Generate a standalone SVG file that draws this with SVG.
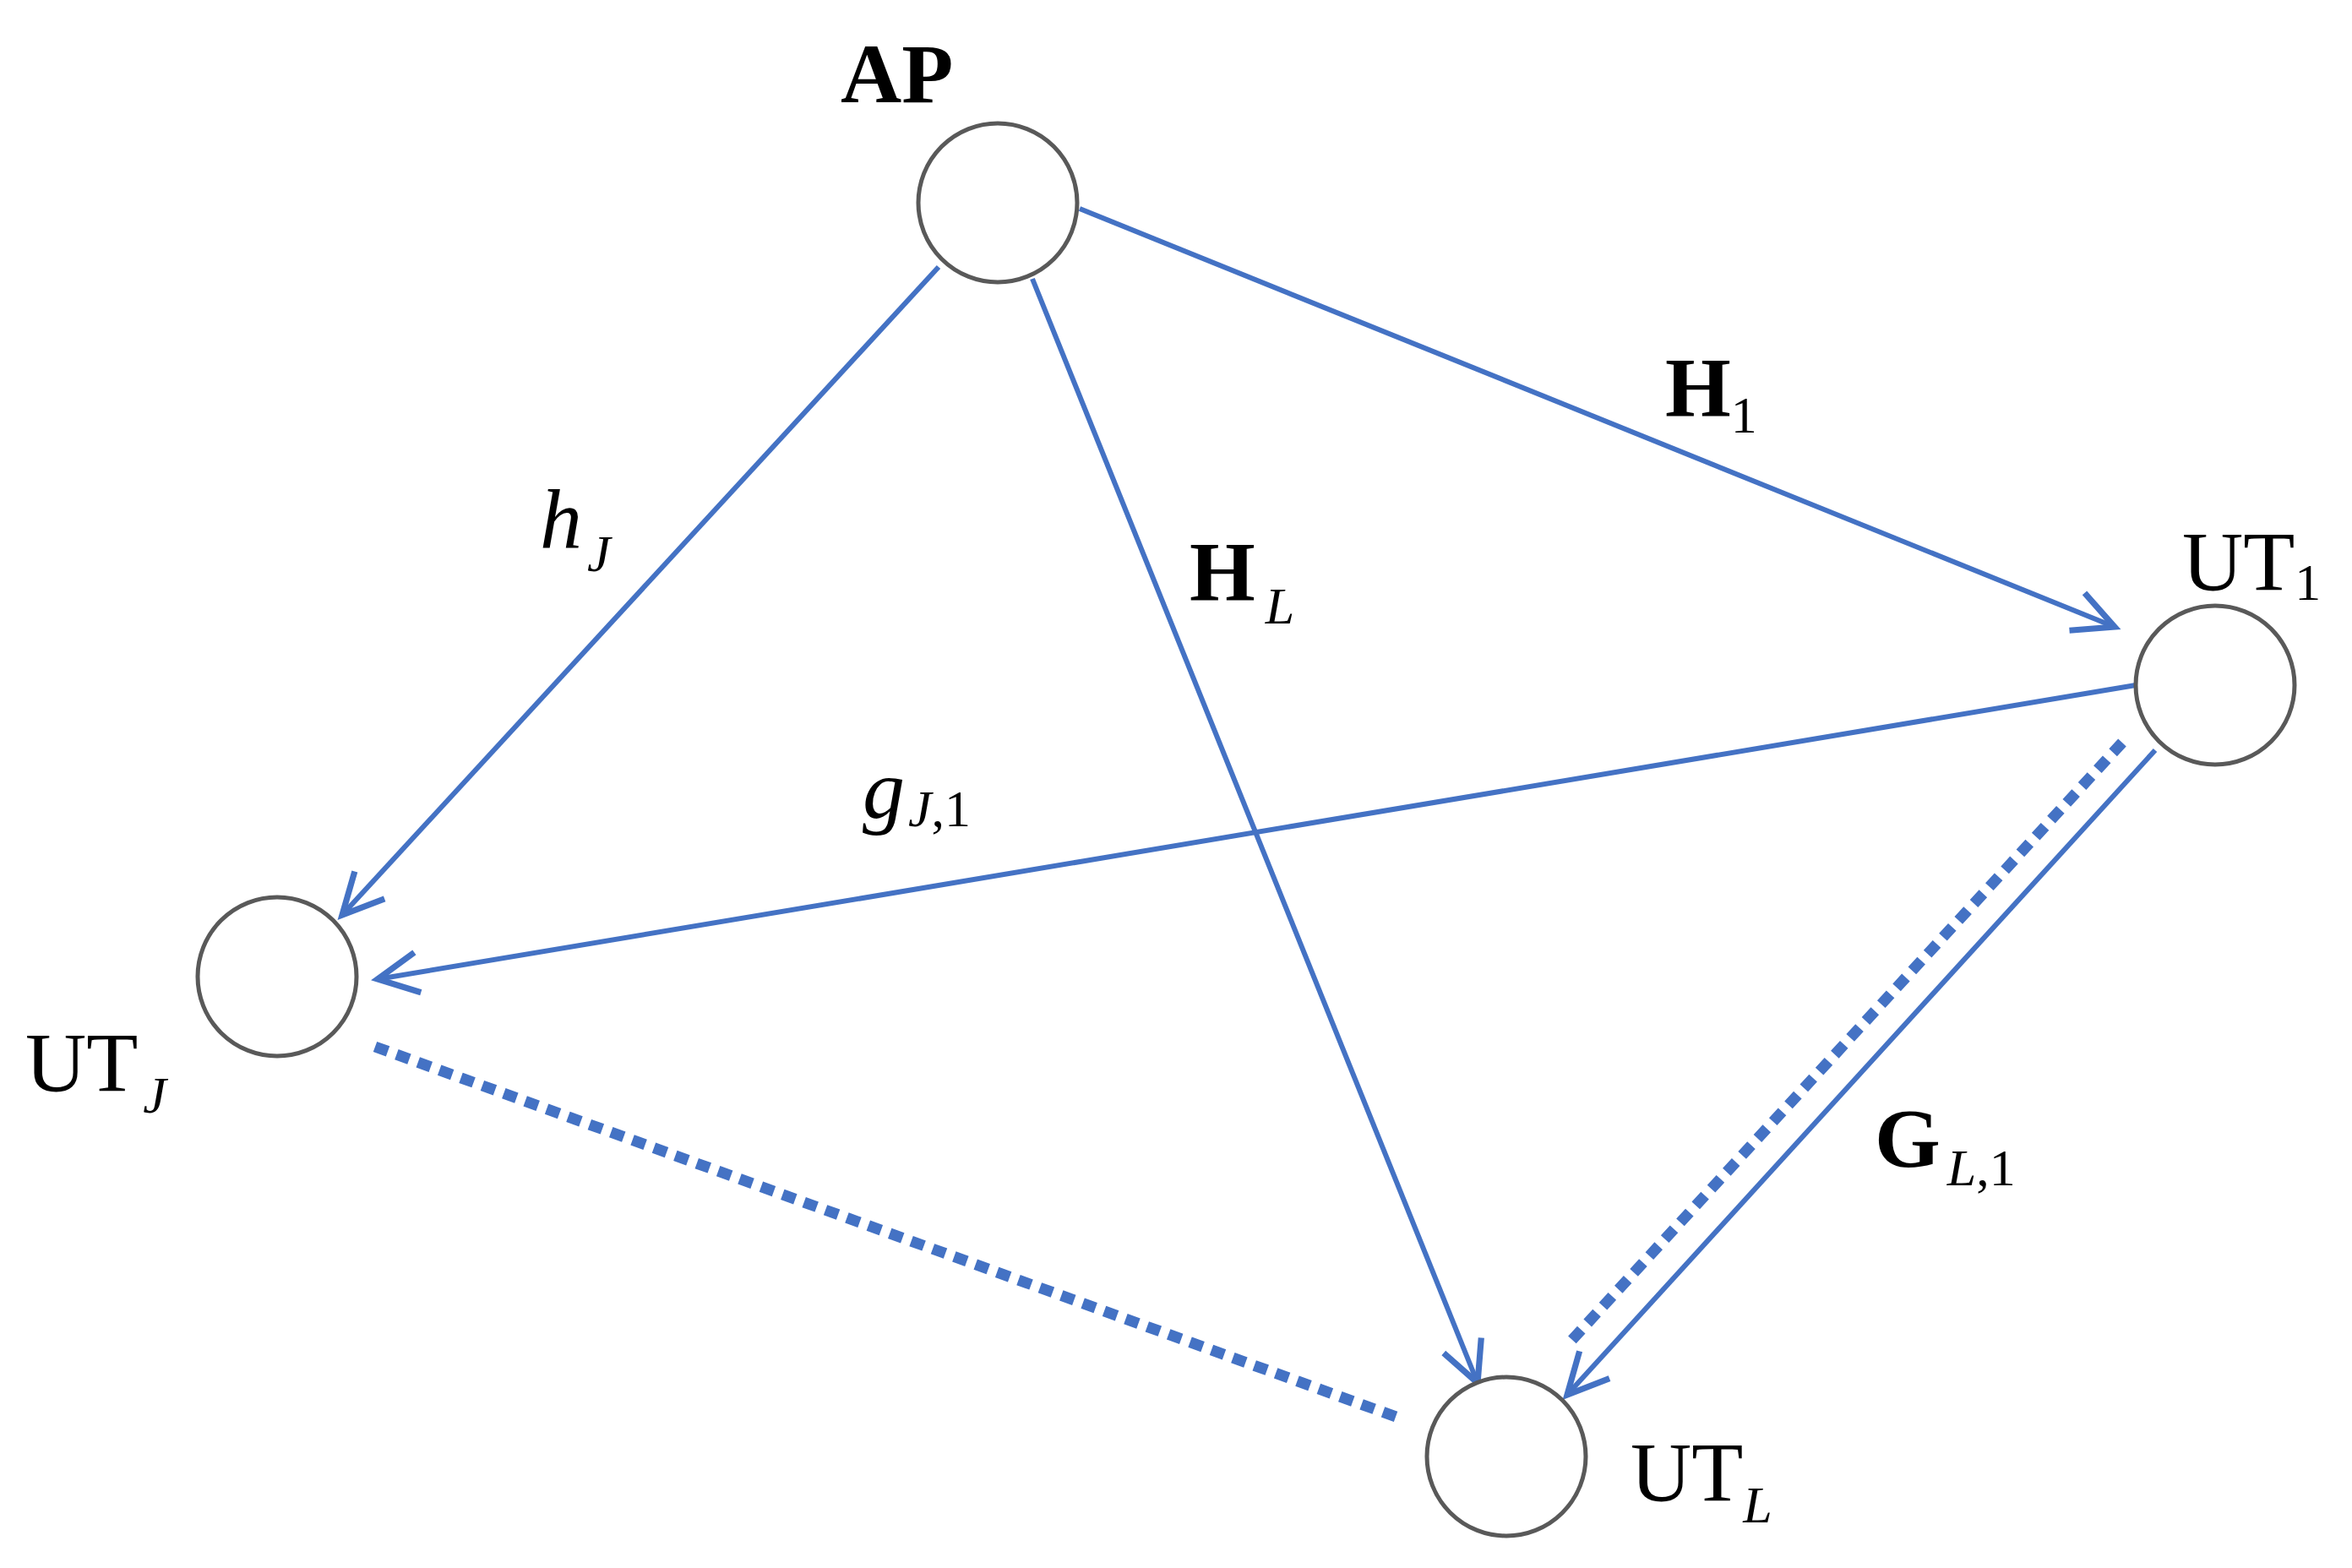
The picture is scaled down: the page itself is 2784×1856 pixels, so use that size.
<svg xmlns="http://www.w3.org/2000/svg" width="2784" height="1856" viewBox="0 0 2784 1856">
<defs>
<marker id="arr" markerWidth="12" markerHeight="12" refX="9" refY="5" orient="auto" markerUnits="strokeWidth" viewBox="0 0 12 10">
<path d="M1,1 L9,5 L1,9" fill="none" stroke="#4472C4" stroke-width="1.2"/>
</marker>
</defs>
<style>
.n{fill:#fff;stroke:#595959;stroke-width:5}
.e{stroke:#4472C4;stroke-width:6;fill:none}
.d{stroke:#4472C4;stroke-width:13;fill:none;stroke-dasharray:16 11}
text{font-family:"Liberation Serif","Times New Roman",serif;fill:#000}
.t{font-size:100px}
.s{font-size:62px}
</style>
<rect width="2784" height="1856" fill="#fff"/>
<g id="connectors">
<line class="e" x1="1278" y1="247" x2="2503" y2="742" marker-end="url(#arr)"/>
<line class="e" x1="1111" y1="316" x2="405" y2="1083" marker-end="url(#arr)"/>
<line class="e" x1="1222" y1="330" x2="1749" y2="1637" marker-end="url(#arr)"/>
<line class="e" x1="2528" y1="811" x2="447" y2="1159" stroke-width="7" marker-end="url(#arr)"/>
<line class="e" x1="2551" y1="888" x2="1855" y2="1651" marker-end="url(#arr)"/>
<line class="d" x1="2512" y1="879" x2="1858" y2="1589"/>
<line class="d" x1="444" y1="1239" x2="1655" y2="1678"/>
<text class="t" x="1971" y="492" font-weight="bold">H<tspan class="s" font-weight="normal" dy="20">1</tspan></text>
<text class="t" x="639" y="648" font-style="italic">h<tspan class="s" dy="28" dx="6">J</tspan></text>
<text class="t" x="1408" y="710" font-weight="bold">H<tspan class="s" font-weight="normal" font-style="italic" dy="28" dx="12">L</tspan></text>
<text class="t" x="1021" y="968" font-style="italic">g<tspan class="s" dy="10" dx="4">J</tspan><tspan class="s" font-style="normal">,1</tspan></text>
<text class="t" x="2219" y="1381" font-weight="bold">G<tspan class="s" font-weight="normal" font-style="italic" dy="22" dx="8">L</tspan><tspan class="s" font-weight="normal">,1</tspan></text>
</g>
<g id="AP">
<circle class="n" cx="1181" cy="240" r="94"/>
<text class="t" x="995" y="121" font-weight="bold">AP</text>
</g>
<g id="UT1">
<circle class="n" cx="2622" cy="811" r="94"/>
<text class="t" x="2583" y="698">UT<tspan class="s" dy="12">1</tspan></text>
</g>
<g id="UTJ">
<circle class="n" cx="328" cy="1156" r="94"/>
<text class="t" x="30" y="1291">UT<tspan class="s" font-style="italic" dy="26" dx="6">J</tspan></text>
</g>
<g id="UTL">
<circle class="n" cx="1783" cy="1724" r="94"/>
<text class="t" x="1930" y="1776">UT<tspan class="s" font-style="italic" dy="26">L</tspan></text>
</g>
</svg>
